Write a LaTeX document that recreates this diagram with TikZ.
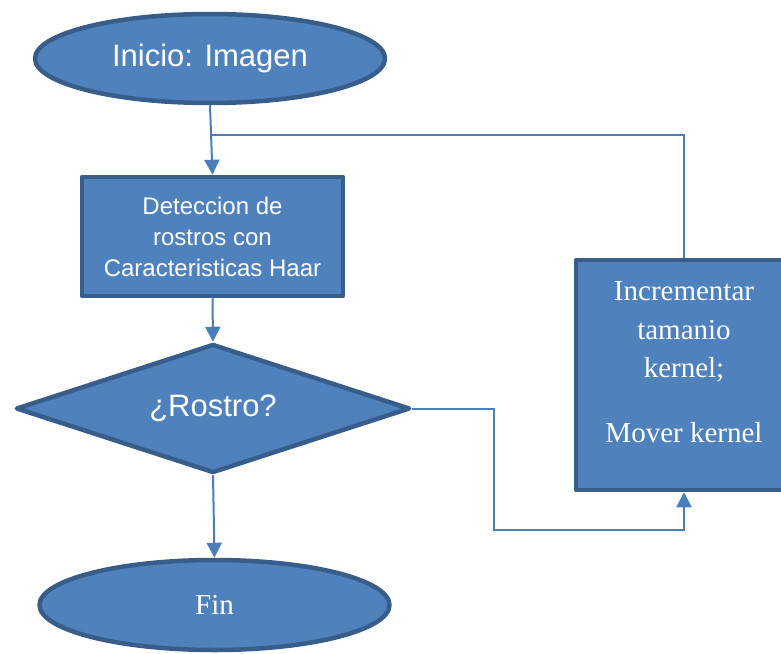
\documentclass[tikz,border=0pt]{standalone}
\usepackage{fontspec}
\setmainfont{Liberation Serif}
\setsansfont{Liberation Sans}
\usetikzlibrary{shapes.geometric,arrows.meta}
\definecolor{fillblue}{HTML}{4F81BD}
\definecolor{edgeblue}{HTML}{385D8A}
\definecolor{linkblue}{HTML}{4A7EBB}

\begin{document}
\begin{tikzpicture}[x=1pt,y=-1pt,
  shapebase/.style={fill=fillblue, draw=edgeblue, line width=4.5pt, text=white,
    inner sep=0pt, line join=round},
  terminal/.style={shapebase, ellipse, minimum width=350pt, minimum height=89pt},
  process/.style={shapebase, rectangle},
  decision/.style={shapebase, diamond, shape aspect=3.05,
    minimum width=394pt, minimum height=129pt},
  sanslabel/.style={font=\sffamily\fontsize{31}{37}\selectfont},
  seriflabel/.style={font=\rmfamily\fontsize{29}{38.5}\selectfont},
  link/.style={draw=linkblue, line width=2pt},
  arrow/.style={link, -{Triangle[width=15pt,length=15pt]}}
]
\useasboundingbox (0,0) rectangle (781,653);

% flow nodes
\node[terminal, sanslabel] (start) at (210,58.5) {Inicio: Imagen};
\node[process, minimum width=261pt, minimum height=119pt, align=center,
      font=\sffamily\fontsize{24}{31}\selectfont] (detect) at (212.5,236.5)
      {Deteccion de\\ rostros con\\ Caracteristicas Haar};
\node[decision, sanslabel] (face) at (213,408.5) {¿Rostro?};
\node[terminal, seriflabel, minimum height=90pt] (stop) at (214.5,605) {Fin};
\node[process, minimum width=216pt, minimum height=230pt] (grow) at (684,375) {};
\node[seriflabel, text=white, align=center] (growtext) at (684,362)
      {Incrementar\\ tamanio\\ kernel;\\[26pt] Mover kernel};

% connectors
\coordinate (join) at (211,135);
\coordinate (bend) at (494,530);
\draw[arrow] (start.south) -- (detect.north);
\draw[link] (grow.north) |- (join);
\draw[arrow] (detect.south) -- (face.north);
\draw[arrow] (face.south) -- (stop.north);
\draw[arrow] (face.east) -| (bend) -| (grow.south);
\end{tikzpicture}
\end{document}
